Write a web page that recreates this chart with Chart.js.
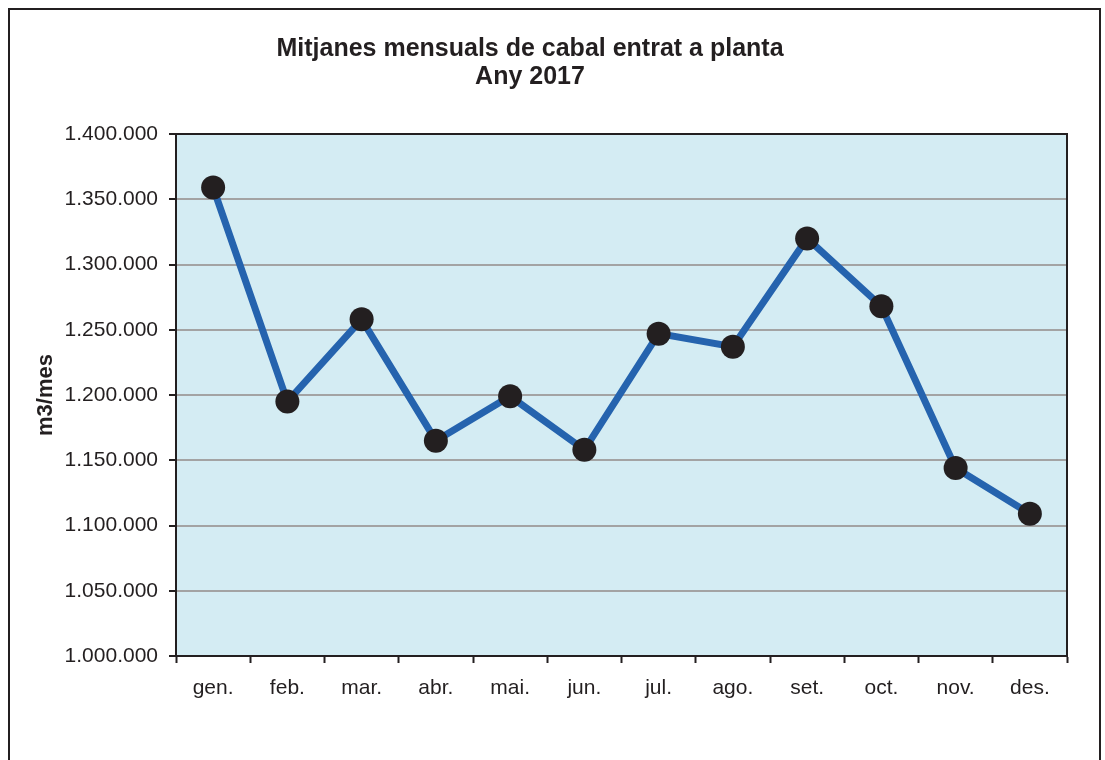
<!DOCTYPE html>
<html>
<head>
<meta charset="utf-8">
<script src="https://cdn.jsdelivr.net/npm/chart.js@4/dist/chart.umd.min.js"></script>
<style>
    html, body { margin: 0; padding: 0; background: #ffffff; overflow: hidden; }
    #frame {
        position: absolute; left: 8px; top: 8px; width: 1093px; height: 800px;
        border: 2px solid #231f20; box-sizing: border-box;
    }
    #wrap { position: absolute; left: 0; top: 0; width: 1105px; height: 760px; }
</style>
</head>
<body>
<div id="frame"></div>
<div id="wrap"><canvas id="chart" width="1105" height="760"></canvas></div>
<script>
// Monthly averages (m3/mes), 2017
const months = ['gen.', 'feb.', 'mar.', 'abr.', 'mai.', 'jun.', 'jul.', 'ago.', 'set.', 'oct.', 'nov.', 'des.'];
const flow = [1359000, 1195000, 1258000, 1165000, 1199000, 1158000, 1247000, 1237000, 1320000, 1268000, 1144000, 1109000];
const titleLines = ['Mitjanes mensuals de cabal entrat a planta', 'Any 2017'];
const yTitle = 'm3/mes';

const ink = '#231f20';
const fontFamily = '"Liberation Sans", Arial, sans-serif';

// dots as thousands separator
function formatNumber(v) {
    return String(Math.round(v)).replace(/\B(?=(\d{3})+(?!\d))/g, '.');
}

const plotDecor = {
    id: 'plotDecor',
    beforeDraw(chart) {
        const { ctx, chartArea: a } = chart;
        ctx.letterSpacing = '0px';
        ctx.save();
        ctx.fillStyle = '#d4ecf3';
        ctx.fillRect(a.left, a.top, a.right - a.left, a.bottom - a.top);
        ctx.restore();
    },
    beforeDatasetsDraw(chart) {
        const { ctx, chartArea: a } = chart;
        ctx.save();
        ctx.strokeStyle = ink;
        ctx.lineWidth = 2;
        ctx.strokeRect(a.left, a.top, a.right - a.left, a.bottom - a.top);
        ctx.restore();
    },
    afterDatasetsDraw(chart) {
        // x axis (z: 1) is drawn right after this, with wider letters
        chart.ctx.letterSpacing = '2px';
    },
    afterDraw(chart) {
        const { ctx } = chart;
        ctx.letterSpacing = '0px';
        ctx.save();
        ctx.fillStyle = ink;
        ctx.font = 'bold 25px ' + fontFamily;
        ctx.textAlign = 'center';
        ctx.textBaseline = 'middle';
        ctx.fillText(titleLines[0], 530, 49);
        ctx.fillText(titleLines[1], 530, 77);
        ctx.restore();
    }
};

new Chart(document.getElementById('chart'), {
    type: 'line',
    data: {
        labels: months,
        datasets: [{
            data: flow,
            borderColor: '#2563ae',
            borderWidth: 7,
            pointBackgroundColor: ink,
            pointBorderColor: ink,
            pointBorderWidth: 0,
            pointRadius: 12,
            tension: 0
        }]
    },
    options: {
        responsive: false,
        animation: false,
        layout: { padding: { top: 134, right: 38, bottom: 0, left: 0 } },
        plugins: {
            legend: { display: false },
            tooltip: { enabled: false }
        },
        scales: {
            x: {
                z: 1,
                offset: true,
                grid: {
                    offset: true,
                    drawOnChartArea: false,
                    drawTicks: true,
                    tickLength: 7,
                    tickColor: ink,
                    tickWidth: 2
                },
                border: { color: ink, width: 2 },
                ticks: {
                    color: ink,
                    padding: 13,
                    font: { family: fontFamily, size: 21 }
                },
                afterFit(s) { s.height = 104; }
            },
            y: {
                min: 1000000,
                max: 1400000,
                grid: {
                    color: '#a3a3a3',
                    lineWidth: 2,
                    tickLength: 7,
                    tickColor: ink,
                    tickWidth: 2
                },
                border: { color: ink, width: 2 },
                ticks: {
                    stepSize: 50000,
                    color: ink,
                    padding: 11,
                    font: { family: fontFamily, size: 21 },
                    callback: (v) => formatNumber(v)
                },
                title: {
                    display: true,
                    text: yTitle,
                    color: ink,
                    padding: { top: 33, bottom: 0 },
                    font: { family: fontFamily, size: 22, weight: 'bold' }
                },
                afterFit(s) { s.width = 176; }
            }
        }
    },
    plugins: [plotDecor]
});
</script>
</body>
</html>
